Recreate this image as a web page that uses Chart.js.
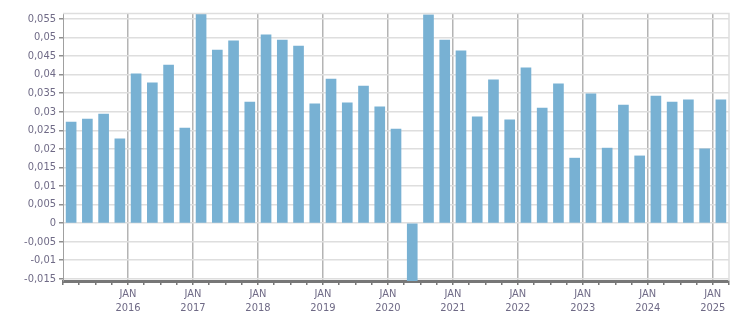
<!DOCTYPE html>
<html>
<head>
<meta charset="utf-8">
<script src="https://cdn.jsdelivr.net/npm/chart.js@4/dist/chart.umd.min.js"></script>
<style>
  html, body { margin: 0; padding: 0; background: #ffffff; }
  #wrap { width: 751px; height: 313px; position: relative; }
</style>
</head>
<body>
<div id="wrap"><canvas id="c" width="751" height="313"></canvas></div>
<script>
// Quarterly periods (year, quarter)
const quarters = [
  '2015 Q1','2015 Q2','2015 Q3','2015 Q4',
  '2016 Q1','2016 Q2','2016 Q3','2016 Q4',
  '2017 Q1','2017 Q2','2017 Q3','2017 Q4',
  '2018 Q1','2018 Q2','2018 Q3','2018 Q4',
  '2019 Q1','2019 Q2','2019 Q3','2019 Q4',
  '2020 Q1','2020 Q2','2020 Q3','2020 Q4',
  '2021 Q1','2021 Q2','2021 Q3','2021 Q4',
  '2022 Q1','2022 Q2','2022 Q3','2022 Q4',
  '2023 Q1','2023 Q2','2023 Q3','2023 Q4',
  '2024 Q1','2024 Q2','2024 Q3','2024 Q4',
  '2025 Q1'
];
const values = [
  0.0272, 0.0280, 0.0294, 0.0227,
  0.0402, 0.0378, 0.0426, 0.0256,
  0.0564, 0.0466, 0.0491, 0.0326,
  0.0507, 0.0493, 0.0477, 0.0321,
  0.0388, 0.0324, 0.0369, 0.0313,
  0.0253, -0.0156, 0.0561, 0.0493,
  0.0464, 0.0286, 0.0386, 0.0278,
  0.0418, 0.0310, 0.0375, 0.0175,
  0.0348, 0.0202, 0.0318, 0.0181,
  0.0342, 0.0326, 0.0332, 0.0200,
  0.0332
];
const yearLabels = [2016, 2017, 2018, 2019, 2020, 2021, 2022, 2023, 2024, 2025];
const monthLabel = 'JAN';

function quarterToX(q) {
  const parts = q.split(' Q');
  return Number(parts[0]) + (Number(parts[1]) - 1) * 0.25 + 0.125;
}
const points = quarters.map((q, i) => ({ x: quarterToX(q), y: values[i] }));

const TEXT = '#6f6a86';
const FONT = { family: "'DejaVu Sans Condensed', 'DejaVu Sans', sans-serif", size: 11 };

const frame = {
  id: 'frame',
  afterDraw(chart) {
    const { ctx, chartArea: a } = chart;
    ctx.save();
    ctx.strokeStyle = '#dedede';
    ctx.lineWidth = 1.5;
    ctx.beginPath();
    ctx.moveTo(a.left, a.top + 0.5);
    ctx.lineTo(a.right, a.top + 0.5);
    ctx.lineTo(a.right, a.bottom);
    ctx.stroke();
    ctx.restore();
  }
};

function isYearTick(c) {
  return c && c.tick && Number.isInteger(c.tick.value) && c.tick.value > 2015;
}

new Chart(document.getElementById('c'), {
  type: 'bar',
  data: {
    datasets: [{
      data: points,
      backgroundColor: '#78b1d3',
      borderWidth: 0,
      barThickness: 10
    }]
  },
  options: {
    responsive: false,
    animation: false,
    layout: { padding: { top: 13, right: 22, left: 0, bottom: 0 } },
    plugins: { legend: { display: false }, tooltip: { enabled: false } },
    scales: {
      x: {
        type: 'linear',
        min: 2015,
        max: 2025.25,
        offset: false,
        afterFit(s) { s.height = 32; },
        border: { color: '#777777', width: 3 },
        grid: {
          offset: false,
          color: (c) => isYearTick(c) ? '#b4b4b4' : 'rgba(0,0,0,0)',
          lineWidth: 1.5,
          tickColor: '#777777',
          tickLength: 4,
          drawTicks: true
        },
        ticks: {
          stepSize: 0.25,
          autoSkip: false,
          maxRotation: 0,
          minRotation: 0,
          padding: 3,
          color: TEXT,
          font: FONT,
          callback: (v) => (Number.isInteger(v) && yearLabels.includes(v)) ? [monthLabel, String(v)] : ''
        }
      },
      y: {
        min: -0.0156,
        max: 0.0566,
        afterFit(s) { s.width = 63; },
        border: { color: '#a0a0a0', width: 1 },
        grid: {
          color: '#dedede',
          lineWidth: 1.5,
          tickColor: '#909090',
          tickLength: 4
        },
        ticks: {
          stepSize: 0.005,
          includeBounds: false,
          padding: 3,
          color: TEXT,
          font: FONT,
          callback: (v) => String(parseFloat(Number(v).toFixed(4))).replace('.', ',')
        }
      }
    }
  },
  plugins: [frame]
});
</script>
</body>
</html>
